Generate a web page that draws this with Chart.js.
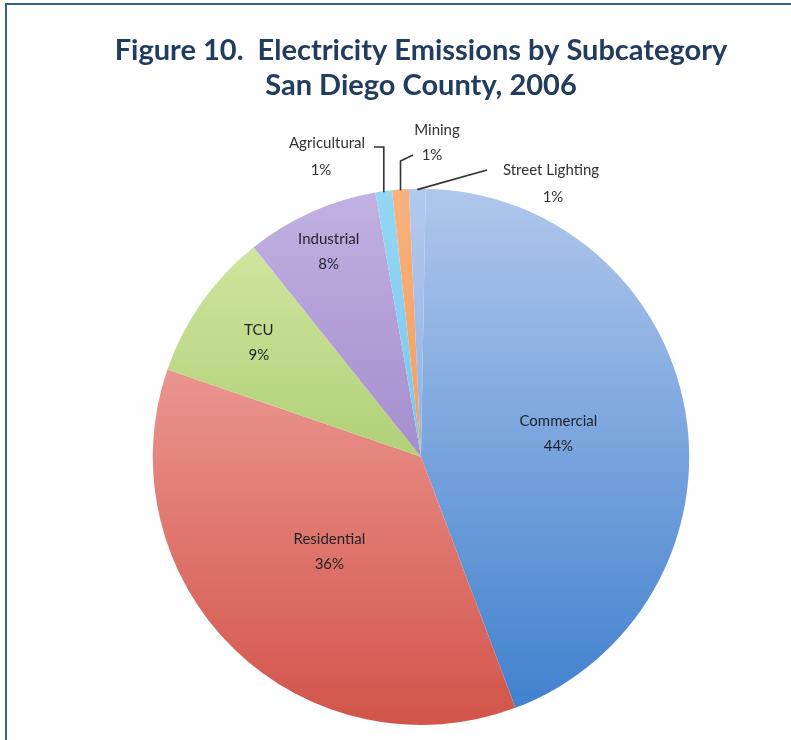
<!DOCTYPE html>
<html>
<head>
<meta charset="utf-8">
<title>Electricity Emissions by Subcategory</title>
<script src="https://cdn.jsdelivr.net/npm/chart.js@4.4.0/dist/chart.umd.min.js"></script>
<style>
    html, body { margin: 0; padding: 0; background: #fff; }
    #wrap { position: relative; width: 791px; height: 740px; background: #fefefe; overflow: hidden; }
    #frame {
        position: absolute; left: 5px; top: 3px; right: 0; bottom: 0;
        border-top: 2px solid #33628f; border-left: 2px solid #33628f;
        pointer-events: none;
    }
</style>
</head>
<body>
<div id="wrap">
    <canvas id="pie" width="791" height="740"></canvas>
    <div id="frame"></div>
</div>
<script>
// Subcategories, clockwise from 12 o'clock
const categories = ['Commercial', 'Residential', 'TCU', 'Industrial', 'Agricultural', 'Mining', 'Street Lighting'];
const shares = [44, 36, 9, 8, 1, 1, 1];
const titleLines = ['Figure 10.  Electricity Emissions by Subcategory', 'San Diego County, 2006'];

// light (top) -> dark (bottom) fill for each slice
const sliceColors = [
    ['#b0c7ec', '#3d7fcd'],
    ['#f7b6b2', '#d2544a'],
    ['#d6eba9', '#8cb546'],
    ['#c3b1e2', '#8569b9'],
    ['#95d7f4', '#5cb8e6'],
    ['#f8b27c', '#ee8a44'],
    ['#b3c9ee', '#6c9ad8']
];

// labels drawn inside the big slices (fraction of the radius)
const insideRadius = { Commercial: 0.52, Residential: 0.49, TCU: 0.74, Industrial: 0.84 };

// callouts for the thin slices: text centres and leader elbows
const callouts = {
    'Agricultural':    { name: [327, 143], pct: [321, 170], path: a => [[a.x, 147], [374, 147]] },
    'Mining':          { name: [437, 130], pct: [432, 155], path: a => [[a.x, 161], [413, 155]] },
    'Street Lighting': { name: [551, 170], pct: [553, 197], path: a => [[487, 170]] }
};

const labelFont = '15px Lato, "Open Sans", sans-serif';

const sliceLabels = {
    id: 'sliceLabels',
    afterDatasetsDraw(chart) {
        const ctx = chart.ctx;
        const meta = chart.getDatasetMeta(0);
        ctx.save();
        ctx.font = labelFont;
        ctx.textAlign = 'center';
        ctx.textBaseline = 'middle';
        meta.data.forEach((arc, i) => {
            const p = arc.getProps(['x', 'y', 'startAngle', 'endAngle', 'outerRadius'], true);
            const mid = (p.startAngle + p.endAngle) / 2;
            const name = categories[i];
            const pct = shares[i] + '%';
            if (insideRadius[name]) {
                const r = p.outerRadius * insideRadius[name];
                const cx = p.x + Math.cos(mid) * r;
                const cy = p.y + Math.sin(mid) * r;
                ctx.fillStyle = '#1f2126';
                ctx.fillText(name, cx, cy - 12);
                ctx.fillText(pct, cx, cy + 13);
            } else if (callouts[name]) {
                const c = callouts[name];
                const edge = { x: p.x + Math.cos(mid) * (p.outerRadius - 1), y: p.y + Math.sin(mid) * (p.outerRadius - 1) };
                ctx.strokeStyle = '#333';
                ctx.lineWidth = 1.6;
                ctx.beginPath();
                ctx.moveTo(edge.x, edge.y);
                c.path(edge).forEach(pt => ctx.lineTo(pt[0], pt[1]));
                ctx.stroke();
                ctx.fillStyle = '#333';
                ctx.fillText(name, c.name[0], c.name[1]);
                ctx.fillText(pct, c.pct[0], c.pct[1]);
            }
        });
        ctx.restore();
    }
};

new Chart(document.getElementById('pie'), {
    type: 'pie',
    data: {
        labels: categories,
        datasets: [{
            data: shares,
            borderWidth: 0,
            backgroundColor: (c) => {
                const area = c.chart.chartArea;
                const pair = sliceColors[c.dataIndex];
                if (!area) return pair[0];
                const g = c.chart.ctx.createLinearGradient(0, area.top, 0, area.bottom);
                g.addColorStop(0, pair[0]);
                g.addColorStop(1, pair[1]);
                return g;
            }
        }]
    },
    options: {
        responsive: false,
        animation: false,
        rotation: 1,
        layout: { padding: { top: 0, left: 60, right: 9, bottom: 15 } },
        plugins: {
            legend: { display: false },
            tooltip: { enabled: false },
            title: {
                display: true,
                text: titleLines,
                color: '#213c5e',
                font: { family: 'Lato, "Open Sans", sans-serif', size: 29, weight: 'bold', lineHeight: 1.2 },
                padding: { top: 33, bottom: 86 }
            }
        }
    },
    plugins: [sliceLabels]
});
</script>
</body>
</html>
